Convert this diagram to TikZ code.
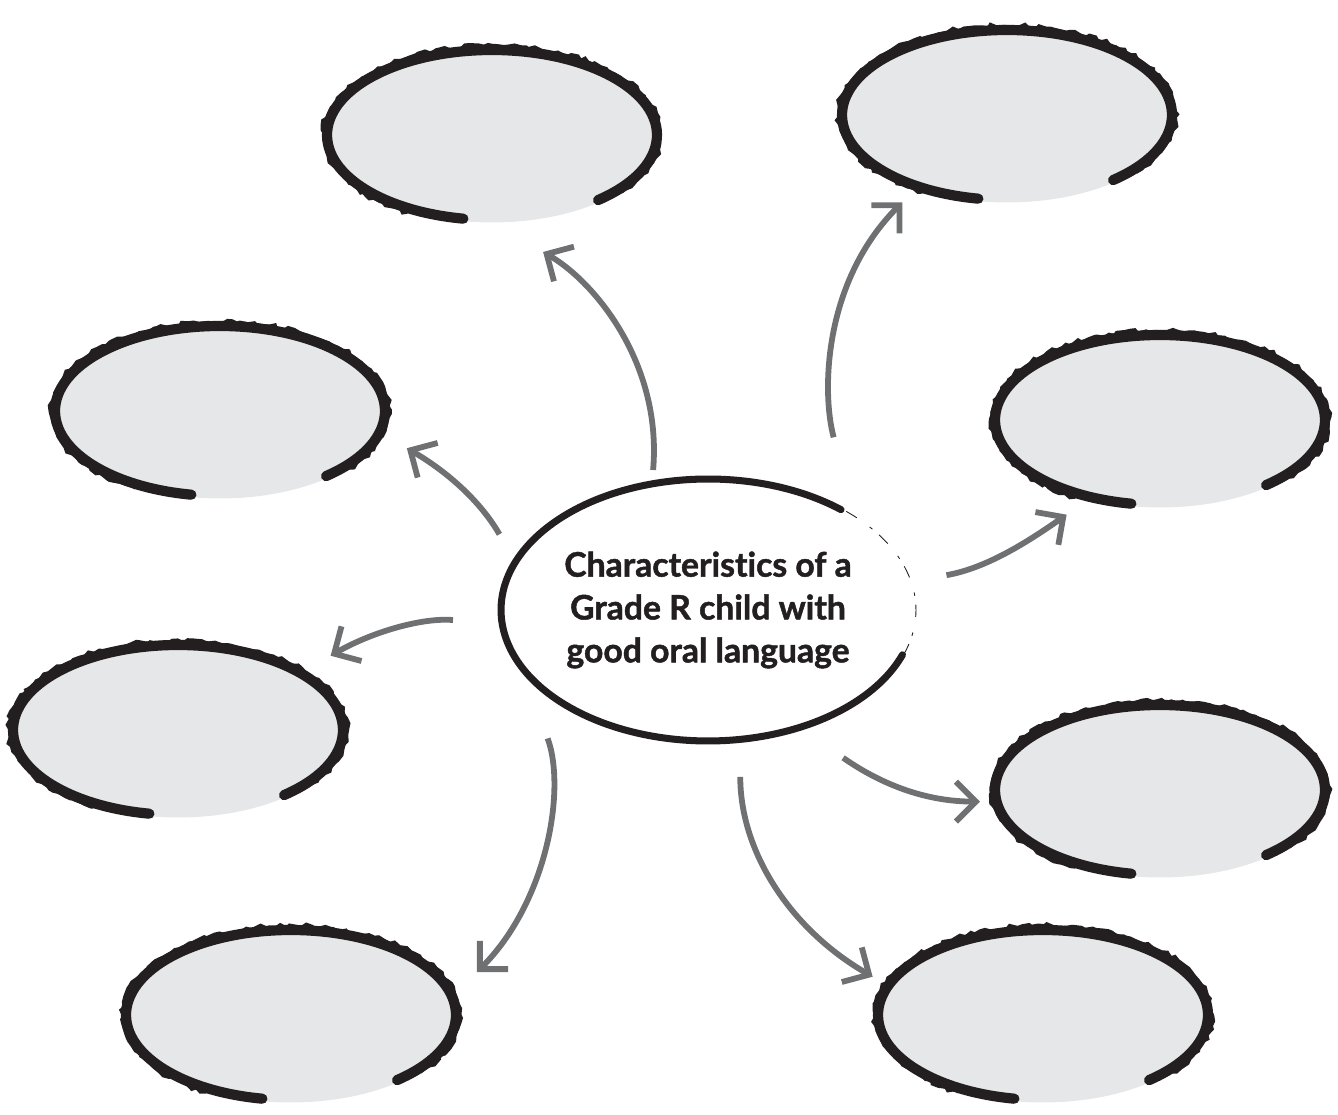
\documentclass[tikz,border=0pt]{standalone}
\usepackage{fontspec}
\setmainfont{Lato}[Ligatures=NoCommon, BoldFeatures={FakeBold=1.4}]
\usetikzlibrary{shapes.geometric,arrows.meta,decorations.pathmorphing}
\definecolor{bubblegray}{HTML}{E6E7E8}
\definecolor{inkblack}{HTML}{231F20}
\definecolor{arrowgray}{HTML}{6F7072}
\tikzset{
  bubble/.style={ellipse, fill=bubblegray, minimum width=6.7cm, minimum height=3.5cm, inner sep=0pt, outer sep=0pt},
  brush/.style={draw=inkblack, line width=5.8pt, line cap=round},
  roughbrush/.style={draw=inkblack, line width=1.8pt, decorate, decoration={random steps, segment length=3pt, amplitude=1.3pt}},
  corebrush/.style={draw=inkblack, line width=4pt, line cap=round},
  faintink/.style={draw=inkblack, line width=0.5pt, dash pattern=on 7pt off 5pt on 2pt off 9pt},
  link/.style={draw=arrowgray, line width=3.3pt, -{Straight Barb[length=0.4cm,width=0.8cm]}}
}
\begin{document}
\begin{tikzpicture}[x=0.02cm, y=0.02cm]
\useasboundingbox (0,0) rectangle (1338,1115);
\pgfmathsetseed{7}
\node[ellipse, fill=white, minimum width=8.28cm, minimum height=5.24cm, inner sep=0pt, outer sep=0pt, align=center, text=inkblack, font=\bfseries\fontsize{19.2}{24.4}\selectfont] (core) at (708,505) {Characteristics of a\\Grade R child with\\good oral language};
\draw[corebrush] ([shift={(50:4.14cm and 2.62cm)}]core.center) arc[start angle=50, end angle=340, x radius=4.14cm, y radius=2.62cm];
\draw[faintink] ([shift={(-20:4.16cm and 2.64cm)}]core.center) arc[start angle=-20, end angle=50, x radius=4.16cm, y radius=2.64cm];
\node[bubble] (tc) at (492,980) {};
\node[bubble] (tr) at (1007,1000) {};
\node[bubble] (ul) at (220,704) {};
\node[bubble] (ur) at (1160,695) {};
\node[bubble] (ml) at (178,385) {};
\node[bubble] (mr) at (1160,325) {};
\node[bubble] (bl) at (291,100) {};
\node[bubble] (br) at (1043,100) {};
\draw[brush] ([shift={(-50:3.3cm and 1.7cm)}]tc.center) arc[start angle=-50, end angle=260, x radius=3.3cm, y radius=1.7cm];
\draw[brush] ([shift={(-50:3.3cm and 1.7cm)}]tr.center) arc[start angle=-50, end angle=260, x radius=3.3cm, y radius=1.7cm];
\draw[brush] ([shift={(-50:3.3cm and 1.7cm)}]ul.center) arc[start angle=-50, end angle=260, x radius=3.3cm, y radius=1.7cm];
\draw[brush] ([shift={(-50:3.3cm and 1.7cm)}]ur.center) arc[start angle=-50, end angle=260, x radius=3.3cm, y radius=1.7cm];
\draw[brush] ([shift={(-50:3.3cm and 1.7cm)}]ml.center) arc[start angle=-50, end angle=260, x radius=3.3cm, y radius=1.7cm];
\draw[brush] ([shift={(-50:3.3cm and 1.7cm)}]mr.center) arc[start angle=-50, end angle=260, x radius=3.3cm, y radius=1.7cm];
\draw[brush] ([shift={(-50:3.3cm and 1.7cm)}]bl.center) arc[start angle=-50, end angle=260, x radius=3.3cm, y radius=1.7cm];
\draw[brush] ([shift={(-50:3.3cm and 1.7cm)}]br.center) arc[start angle=-50, end angle=260, x radius=3.3cm, y radius=1.7cm];
\draw[roughbrush] ([shift={(-40:3.38cm and 1.78cm)}]tc.center) arc[start angle=-40, end angle=240, x radius=3.38cm, y radius=1.78cm];
\draw[roughbrush] ([shift={(-40:3.38cm and 1.78cm)}]tr.center) arc[start angle=-40, end angle=240, x radius=3.38cm, y radius=1.78cm];
\draw[roughbrush] ([shift={(-40:3.38cm and 1.78cm)}]ul.center) arc[start angle=-40, end angle=240, x radius=3.38cm, y radius=1.78cm];
\draw[roughbrush] ([shift={(-40:3.38cm and 1.78cm)}]ur.center) arc[start angle=-40, end angle=240, x radius=3.38cm, y radius=1.78cm];
\draw[roughbrush] ([shift={(-40:3.38cm and 1.78cm)}]ml.center) arc[start angle=-40, end angle=240, x radius=3.38cm, y radius=1.78cm];
\draw[roughbrush] ([shift={(-40:3.38cm and 1.78cm)}]mr.center) arc[start angle=-40, end angle=240, x radius=3.38cm, y radius=1.78cm];
\draw[roughbrush] ([shift={(-40:3.38cm and 1.78cm)}]bl.center) arc[start angle=-40, end angle=240, x radius=3.38cm, y radius=1.78cm];
\draw[roughbrush] ([shift={(-40:3.38cm and 1.78cm)}]br.center) arc[start angle=-40, end angle=240, x radius=3.38cm, y radius=1.78cm];
\draw[link, shorten <=0.28cm, shorten >=1.18cm] (core.114) to[out=85, in=-30] (tc.-90);
\draw[link, shorten <=1.67cm, shorten >=0.39cm] (core.32) to[out=105, in=-135] (tr.-141);
\draw[link, shorten <=0.64cm, shorten >=0.58cm] (core.166) to[out=120, in=-30] (ul.-8);
\draw[link, shorten <=0.74cm, shorten >=0.54cm] (core.8) to[out=10, in=-145] (ur.-132);
\draw[link, shorten <=0.99cm, shorten >=0.64cm] (core.184) to[out=175, in=30] (ml.25);
\draw[link, shorten <=1.06cm, shorten >=0.28cm] (core.-52) to[out=-35, in=180] (mr.-176);
\draw[link, shorten <=1.52cm, shorten >=0.65cm] (core.-163) to[out=-70, in=45] (bl.7);
\draw[link, shorten <=0.75cm, shorten >=0.31cm] (core.-76) to[out=-90, in=150] (br.169);
\end{tikzpicture}
\end{document}
